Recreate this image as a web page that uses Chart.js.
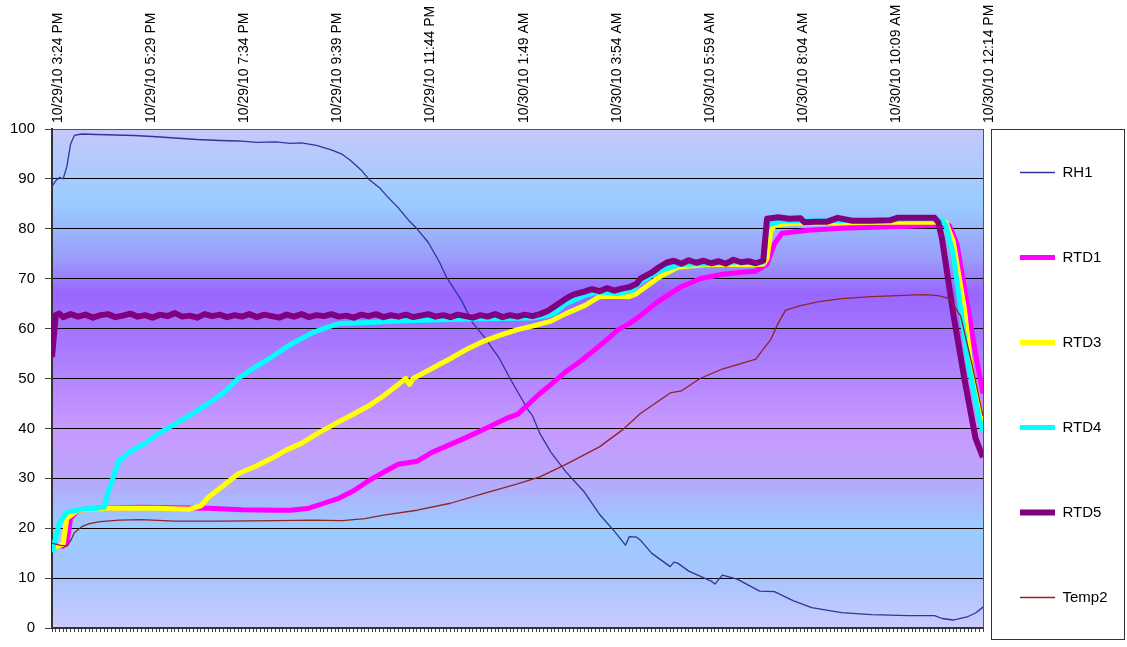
<!DOCTYPE html>
<html><head><meta charset="utf-8">
<script src="https://cdn.jsdelivr.net/npm/chart.js@4.4.0/dist/chart.umd.min.js"></script>
<style>html,body{margin:0;padding:0;background:#fff;}canvas{display:block;}</style>
</head><body>
<canvas id="c" width="1127" height="647"></canvas>
<script>
// Tick labels (every 25 samples of 5 minutes)
const timeLabels = ['10/29/10 3:24 PM','10/29/10 5:29 PM','10/29/10 7:34 PM','10/29/10 9:39 PM','10/29/10 11:44 PM','10/30/10 1:49 AM','10/30/10 3:54 AM','10/30/10 5:59 AM','10/30/10 8:04 AM','10/30/10 10:09 AM','10/30/10 12:14 PM'];
const seriesNames = ['RH1','RTD1','RTD3','RTD4','RTD5','Temp2'];
const sampleCount = 251;

// [sample index, value]
const rh1 = [[0,88.5],[1,89.6],[2,90.3],[3,90.0],[4,92.5],[5,97.0],[6,98.7],[8,99.0],[12,98.9],[17,98.8],[22,98.7],[27,98.5],[33,98.2],[39,97.9],[45,97.7],[50,97.6],[55,97.3],[60,97.4],[64,97.1],[67,97.2],[71,96.7],[75,95.8],[78,94.9],[80,93.8],[83,91.8],[85,90.0],[88,88.2],[90,86.5],[93,84.2],[96,81.5],[98,80.0],[101,77.3],[104,73.4],[106,70.2],[110,65.6],[113,61.1],[116,58.4],[120,54.2],[123,50.0],[126,46.1],[128,43.5],[129,42.6],[131,39.0],[134,35.2],[138,31.3],[143,27.2],[147,22.8],[151,19.4],[154,16.6],[155,18.3],[157,18.2],[158,17.6],[161,15.0],[166,12.3],[167,13.2],[168,13.0],[171,11.4],[177,9.4],[178,8.8],[180,10.6],[184,9.8],[190,7.4],[194,7.3],[199,5.5],[204,4.1],[212,3.1],[220,2.7],[230,2.5],[237,2.5],[239,1.9],[242,1.6],[246,2.3],[248,3.0],[250,4.2]];
const rtd1 = [[0,16.8],[3,16.4],[4,17.0],[5,22.0],[7,23.6],[12,24.0],[24,24.2],[33,24.1],[42,24.0],[51,23.7],[60,23.6],[64,23.6],[69,24.0],[73,25.0],[77,26.0],[81,27.5],[85,29.5],[89,31.2],[93,32.8],[98,33.4],[102,35.2],[107,36.8],[111,38.1],[117,40.2],[122,42.0],[125,42.8],[128,44.9],[131,47.0],[134,48.8],[138,51.4],[142,53.5],[145,55.3],[149,57.8],[152,59.8],[155,61.0],[158,62.6],[162,65.0],[166,67.0],[169,68.4],[174,70.0],[180,70.9],[185,71.3],[189,71.5],[192,72.9],[194,77.0],[196,79.1],[203,79.7],[212,80.1],[221,80.3],[230,80.5],[237,80.7],[241,80.6],[243,77.0],[246,64.0],[248,55.0],[250,47.0]];
const rtd3 = [[0,16.0],[3,16.8],[4,22.0],[7,23.6],[15,24.0],[28,24.0],[37,23.8],[40,24.5],[42,26.2],[46,28.5],[50,30.9],[55,32.5],[59,34.0],[63,35.7],[67,37.0],[72,39.3],[77,41.3],[80,42.5],[85,44.5],[89,46.5],[93,48.8],[95,50.0],[96,48.8],[97,50.0],[102,52.0],[107,54.0],[111,55.7],[116,57.5],[120,58.6],[125,59.8],[129,60.5],[134,61.5],[138,63.0],[143,64.6],[147,66.4],[151,66.5],[155,66.4],[157,67.0],[158,67.6],[163,70.3],[168,72.3],[175,72.8],[180,72.9],[186,72.8],[191,72.9],[192,74.0],[193,79.5],[194,80.7],[198,81.1],[208,81.2],[220,81.3],[230,81.3],[240,81.3],[242,77.5],[245,64.0],[247,51.0],[250,41.2]];
const rtd4 = [[0,15.2],[2,21.1],[4,23.2],[8,23.8],[12,24.0],[14,24.2],[15,27.0],[17,31.5],[18,33.5],[21,35.4],[25,37.0],[28,38.7],[33,40.9],[37,42.6],[42,45.0],[46,47.1],[50,50.0],[55,52.5],[59,54.3],[64,56.8],[70,59.2],[74,60.3],[77,61.0],[85,61.2],[93,61.5],[102,61.7],[113,61.9],[129,62.1],[133,62.6],[135,63.1],[138,65.0],[143,66.6],[147,67.4],[152,67.0],[156,67.7],[158,69.3],[163,71.5],[169,72.9],[176,73.0],[185,73.4],[191,73.3],[192,80.7],[196,81.6],[211,81.6],[220,81.8],[236,82.0],[239,81.6],[240,80.8],[242,75.0],[244,64.0],[246,53.0],[249,42.0],[250,39.3]];
const rtd5 = [[0,54.3],[1,62.7],[2,63.0],[3,62.3],[5,62.9],[7,62.4],[9,62.8],[11,62.2],[13,62.7],[15,62.9],[17,62.3],[19,62.6],[21,63.0],[23,62.4],[25,62.7],[27,62.2],[29,62.8],[31,62.5],[33,63.1],[35,62.4],[37,62.6],[39,62.2],[41,62.9],[43,62.5],[45,62.8],[47,62.3],[49,62.7],[51,62.4],[53,62.9],[55,62.3],[57,62.8],[59,62.5],[61,62.2],[63,62.8],[65,62.4],[67,62.9],[69,62.3],[71,62.7],[73,62.5],[75,62.9],[77,62.4],[79,62.6],[81,62.2],[83,62.8],[85,62.5],[87,62.9],[89,62.3],[91,62.7],[93,62.4],[95,62.8],[97,62.3],[99,62.6],[101,62.9],[103,62.4],[105,62.7],[107,62.3],[109,62.8],[111,62.5],[113,62.2],[115,62.7],[117,62.4],[119,62.9],[121,62.3],[123,62.7],[125,62.4],[127,62.8],[129,62.5],[131,62.9],[133,63.5],[135,64.5],[138,66.0],[140,66.8],[143,67.4],[145,67.9],[147,67.5],[149,68.1],[151,67.6],[153,68.0],[155,68.3],[157,69.0],[158,70.0],[161,71.2],[163,72.3],[165,73.2],[167,73.6],[169,73.0],[171,73.7],[173,73.2],[175,73.6],[177,73.1],[179,73.5],[181,73.0],[183,73.8],[185,73.3],[187,73.5],[189,73.1],[191,73.6],[192,82.0],[195,82.3],[198,82.0],[201,82.1],[202,81.3],[205,81.4],[208,81.4],[211,82.2],[213,81.9],[215,81.6],[220,81.6],[225,81.7],[227,82.2],[232,82.2],[237,82.2],[238,81.3],[239,78.0],[242,63.0],[245,50.0],[248,38.0],[250,34.2]];
const temp2 = [[0,17.0],[2,16.6],[4,16.4],[5,17.5],[6,19.1],[8,20.3],[10,20.9],[13,21.3],[18,21.6],[24,21.7],[33,21.4],[45,21.4],[60,21.5],[70,21.6],[78,21.5],[84,21.9],[89,22.6],[98,23.6],[107,25.0],[116,27.0],[125,28.9],[131,30.3],[138,32.8],[147,36.3],[153,39.6],[158,43.0],[166,47.1],[169,47.5],[174,50.0],[180,51.9],[189,53.9],[191,55.9],[193,57.8],[195,61.1],[197,63.7],[201,64.6],[206,65.4],[212,66.0],[220,66.4],[234,66.8],[238,66.6],[241,66.0],[244,62.5],[247,53.0],[250,42.5]];

const seriesValues = [rh1, rtd1, rtd3, rtd4, rtd5, temp2];
const seriesColors = ['#333399','#ff00ff','#ffff00','#00ffff','#800080','#8e2424'];
const seriesWidths = [1.3, 5, 5, 5, 6, 1.3];

const datasets = seriesNames.map((name, i) => ({
  label: name,
  data: seriesValues[i].map(p => ({x: p[0], y: p[1]})),
  borderColor: seriesColors[i],
  backgroundColor: seriesColors[i],
  borderWidth: seriesWidths[i],
  pointRadius: 0,
  tension: 0,
  fill: false,
  borderJoinStyle: 'round',
  order: seriesNames.length - i,
  xAxisID: 'x',
  yAxisID: 'y'
}));

const framePlugin = {
  id: 'frame',
  beforeDraw(chart) {
    const {ctx, chartArea: a} = chart;
    const g = ctx.createLinearGradient(0, a.top, 0, a.bottom);
    g.addColorStop(0.00, '#c6c8fa');
    g.addColorStop(0.15, '#99ccff');
    g.addColorStop(0.26, '#9b9cfa');
    g.addColorStop(0.33, '#9966ff');
    g.addColorStop(0.45, '#aa7cfe');
    g.addColorStop(0.60, '#c899fe');
    g.addColorStop(0.70, '#b8a6fc');
    g.addColorStop(0.80, '#99ccff');
    g.addColorStop(0.90, '#a8c4fd');
    g.addColorStop(1.00, '#cbcbfe');
    ctx.save();
    ctx.fillStyle = g;
    ctx.fillRect(a.left, a.top, a.right - a.left, a.bottom - a.top);
    ctx.restore();
  },
  afterLayout(chart) {
    const lg = chart.legend;
    if (!lg) return;
    lg.left = 950; lg.right = 1127; lg.width = 177;
    lg.top = 95; lg.bottom = 720; lg.height = 625;
  },
  afterDraw(chart) {
    const {ctx, chartArea: a} = chart;
    ctx.save();
    ctx.strokeStyle = '#555555';
    ctx.lineWidth = 1;
    ctx.beginPath();
    ctx.moveTo(a.right + 0.5, a.top);
    ctx.lineTo(a.right + 0.5, a.bottom);
    ctx.stroke();
    ctx.strokeStyle = '#333333';
    ctx.strokeRect(991.5, 129.5, 133, 510);
    ctx.restore();
  }
};

new Chart(document.getElementById('c'), {
  type: 'line',
  data: { datasets },
  plugins: [framePlugin],
  options: {
    responsive: false,
    animation: false,
    devicePixelRatio: 1,
    layout: { padding: 0 },
    plugins: {
      tooltip: { enabled: false },
      legend: {
        position: 'right',
        align: 'start',
        maxWidth: 144,
        labels: {
          usePointStyle: true,
          pointStyle: 'line',
          pointStyleWidth: 35,
          padding: 70,
          color: '#000',
          font: { family: '"Liberation Sans", Arial, sans-serif', size: 15 },
          sort: (a, b) => a.datasetIndex - b.datasetIndex
        }
      }
    },
    scales: {
      x: {
        type: 'linear', position: 'bottom', min: 0, max: sampleCount - 1,
        afterFit: s => { s.height = 6; },
        ticks: { display: false, stepSize: 1, autoSkip: false },
        grid: { drawOnChartArea: false, drawTicks: true, tickLength: 4, color: '#444' },
        border: { display: true, color: '#333', width: 2 }
      },
      xTop: {
        type: 'linear', position: 'top', min: 0, max: sampleCount - 1,
        afterFit: s => { s.height = 129; },
        ticks: {
          stepSize: 25, autoSkip: false, minRotation: 90, maxRotation: 90, padding: 6,
          labelOffset: 23,
          color: '#000',
          font: { family: '"Liberation Sans", Arial, sans-serif', size: 14 },
          callback: v => (v % 25 === 0 ? timeLabels[v / 25] : '')
        },
        grid: { display: false, drawTicks: false },
        border: { display: true, color: '#555', width: 1 }
      },
      y: {
        type: 'linear', position: 'left', min: 0, max: 100,
        afterFit: s => { s.width = 52; },
        ticks: { stepSize: 10, padding: 10, color: '#000',
          font: { family: '"Liberation Sans", Arial, sans-serif', size: 15 } },
        grid: { color: '#000', lineWidth: 1, tickLength: 7, tickColor: '#444' },
        border: { display: true, color: '#333', width: 2 }
      }
    }
  }
});
</script>
</body></html>
